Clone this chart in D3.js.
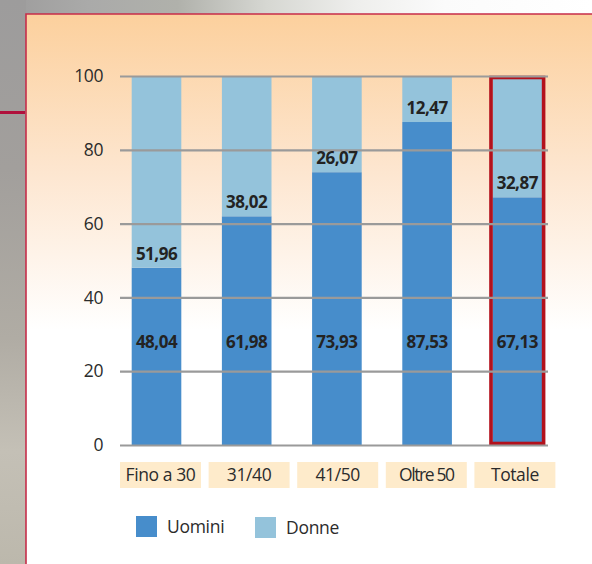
<!DOCTYPE html>
<html><head><meta charset="utf-8">
<script src="https://cdn.jsdelivr.net/npm/d3@7"></script>
<style>html,body{margin:0;padding:0;background:#fff;overflow:hidden;}svg{display:block;}</style>
</head><body>
<svg id="c" width="620" height="580"></svg>
<script>
const categories = ["Fino a 30", "31/40", "41/50", "Oltre 50", "Totale"];
const uomini = [48.04, 61.98, 73.93, 87.53, 67.13];
const donne = [51.96, 38.02, 26.07, 12.47, 32.87];
const yTicks = [0, 20, 40, 60, 80, 100];
const seriesNames = ["Uomini", "Donne"];
const fmt = v => d3.format(".2f")(v).replace(".", ",");

const svg = d3.select("#c");
const defs = svg.append("defs");
const gTop = defs.append("linearGradient").attr("id","gtop").attr("gradientUnits","userSpaceOnUse").attr("x1","0").attr("x2","592").attr("y1","0").attr("y2","0");
[[0,"#9c9b9b"],[0.15,"#aaaaa9"],[0.3,"#b0b1ab"],[0.45,"#d6d7d2"],[0.6,"#eeeeec"],[0.75,"#fbfbfb"],[1,"#ffffff"]].forEach(s=>gTop.append("stop").attr("offset",s[0]).attr("stop-color",s[1]));
const gLeft = defs.append("linearGradient").attr("id","gleft").attr("gradientUnits","userSpaceOnUse").attr("x1","0").attr("x2","0").attr("y1","0").attr("y2","564");
[[0,"#9d9c9c"],[0.3,"#a29f9c"],[0.6,"#b0aca4"],[0.8,"#c4c0b6"],[1,"#bcb8ac"]].forEach(s=>gLeft.append("stop").attr("offset",s[0]).attr("stop-color",s[1]));
const gPanel = defs.append("linearGradient").attr("id","gpanel").attr("gradientUnits","userSpaceOnUse").attr("x1","0").attr("x2","0").attr("y1","14").attr("y2","330");
[[0,"#fcd09d"],[0.5,"#fde6d0"],[1,"#ffffff"]].forEach(s=>gPanel.append("stop").attr("offset",s[0]).attr("stop-color",s[1]));

// background
svg.append("rect").attr("x",0).attr("y",0).attr("width",620).attr("height",14).attr("fill","url(#gtop)");
svg.append("rect").attr("x",0).attr("y",0).attr("width",26).attr("height",580).attr("fill","url(#gleft)");
svg.append("rect").attr("x",26).attr("y",14).attr("width",600).attr("height",570).attr("fill","url(#gpanel)");
svg.append("path").attr("d","M26,580V14H620").attr("fill","none").attr("stroke","#c62d4a").attr("stroke-width",1.6);
svg.append("rect").attr("x",0).attr("y",111).attr("width",25).attr("height",3).attr("fill","#b0113c");

const font = "'Open Sans', sans-serif";
const x = d3.scaleBand().domain(categories).range([111.4, 562.4]).paddingInner(0.45).paddingOuter(0.225);
const xb = d3.scaleBand().domain(categories).range([116.2, 559.2]).paddingInner(0.086).paddingOuter(0.043);
const y = d3.scaleLinear().domain([0,100]).range([445,76]);
const color = d3.scaleOrdinal().domain(seriesNames).range(["#478dcb","#94c3db"]);

const data = categories.map((c,i)=>({c, u: uomini[i], d: donne[i]}));

// bars
const gb = svg.append("g");
gb.selectAll("rect.u").data(data).join("rect")
  .attr("x", d=>x(d.c)).attr("width", x.bandwidth())
  .attr("y", d=>y(d.u)).attr("height", d=>y(0)-y(d.u)).attr("fill", color("Uomini"));
gb.selectAll("rect.d").data(data).join("rect")
  .attr("x", d=>x(d.c)).attr("width", x.bandwidth())
  .attr("y", d=>y(d.u+d.d)).attr("height", d=>y(d.u)-y(d.u+d.d)).attr("fill", color("Donne"));

// highlight on the total
const last = categories[categories.length-1];
svg.append("rect").attr("x", x(last)-1.5).attr("width", x.bandwidth()+3)
  .attr("y", y(100)+1.5).attr("height", y(0)-y(100)-3)
  .attr("fill","none").attr("stroke","#b3111c").attr("stroke-width",3.6);

// gridlines
const axis = d3.axisLeft(y).tickValues(yTicks).tickSize(-(549-121)).tickPadding(18).tickFormat(d3.format("d"));
const ga = svg.append("g").attr("transform","translate(121,0)").call(axis);
ga.select(".domain").remove();
ga.selectAll(".tick line").attr("stroke","#9a9a9a").attr("stroke-width",2.2).attr("transform","translate(-1,0)");
ga.selectAll(".tick text").attr("font-family",font).attr("font-size",17.5).attr("fill","#2b2b2b").attr("letter-spacing",-0.4);

// value labels
const gl = svg.append("g").attr("font-family",font).attr("font-weight","bold").attr("font-size",17)
  .attr("fill","#232323").attr("text-anchor","middle").attr("letter-spacing",-0.5);
gl.selectAll("text.u").data(data).join("text")
  .attr("x", d=>x(d.c)+x.bandwidth()/2).attr("y", y(28)).attr("dy","0.35em").text(d=>fmt(d.u));
gl.selectAll("text.d").data(data).join("text")
  .attr("x", d=>x(d.c)+x.bandwidth()/2).attr("y", d=>y(d.u)-14).attr("dy","0.35em").text(d=>fmt(d.d));

// category boxes
const gc = svg.append("g");
gc.selectAll("rect").data(categories).join("rect")
  .attr("x", d=>xb(d)).attr("width", xb.bandwidth()).attr("y",462).attr("height",26).attr("fill","#feebcb");
gc.selectAll("text").data(categories).join("text")
  .attr("x", d=>xb(d)+xb.bandwidth()/2).attr("y",475).attr("dy","0.35em")
  .attr("text-anchor","middle").attr("font-family",font).attr("font-size",17.5).attr("fill","#2b2b2b")
  .attr("letter-spacing", d=>d==="Oltre 50" ? -1.4 : -0.4)
  .text(d=>d);

// legend
const legX = [136, 255];
const lg = svg.append("g").selectAll("g").data(seriesNames).join("g")
  .attr("transform",(d,i)=>`translate(${legX[i]},${516+i})`);
lg.append("rect").attr("width",21).attr("height",21).attr("fill",d=>color(d));
lg.append("text").attr("x",31).attr("y",11).attr("dy","0.35em").attr("font-family",font).attr("font-size",17.5)
  .attr("fill","#2b2b2b").attr("letter-spacing",-0.3).text(d=>d);
</script>
</body></html>
